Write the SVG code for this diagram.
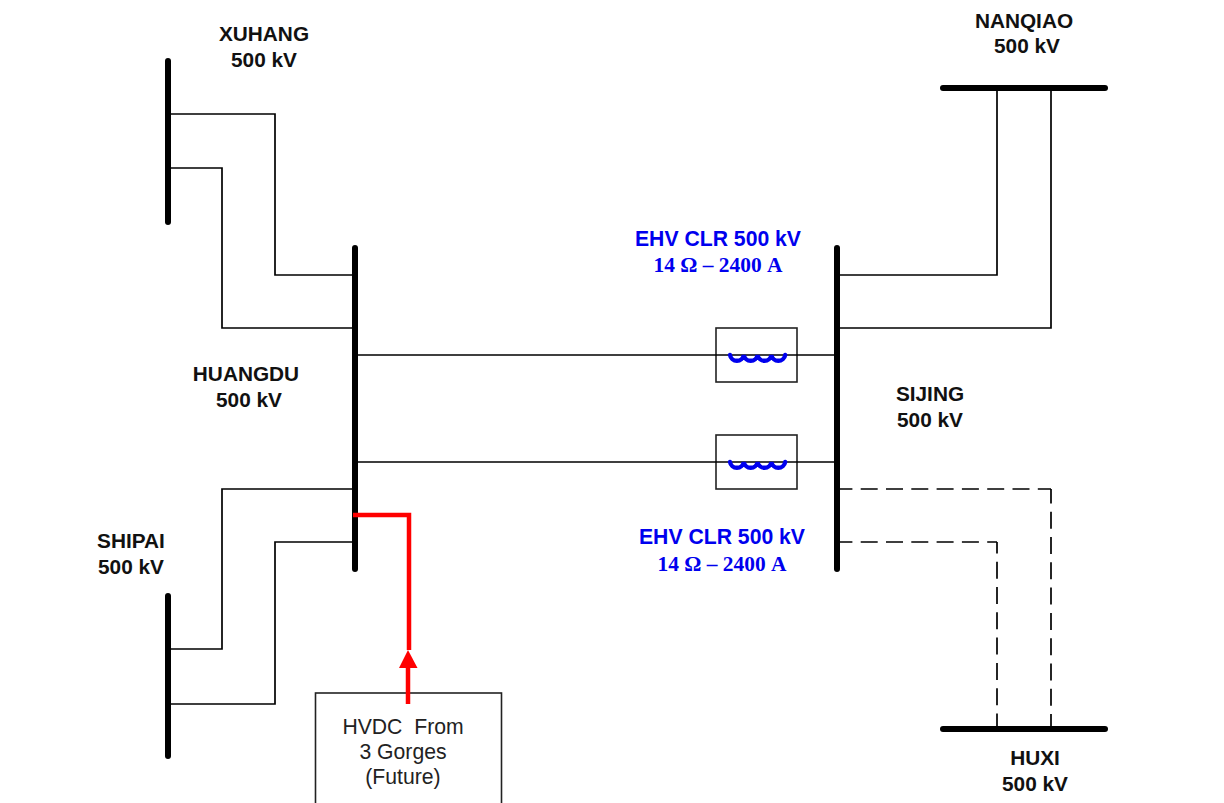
<svg xmlns="http://www.w3.org/2000/svg" width="1224" height="803" viewBox="0 0 1224 803">
<style>
.bus{stroke:#000;stroke-width:6;stroke-linecap:round;fill:none}
.ln{stroke:#000;stroke-width:1.7;fill:none}
.dash{stroke:#000;stroke-width:1.7;fill:none;stroke-dasharray:17 8.3}
.box{fill:#fff;stroke:#222;stroke-width:1.6}
.coil{stroke:#0000ee;stroke-width:4.4;fill:none;stroke-linecap:round}
.hv{stroke:#f00;stroke-width:4.500;fill:none}
text{font-family:"Liberation Sans",Arial,sans-serif;text-anchor:middle}
.lb{font-size:20.8px;font-weight:bold;fill:#111}
.bl{font-size:21.2px;font-weight:bold;fill:#0000ee}
.bs{font-family:"Liberation Serif","Times New Roman",serif;font-size:21.4px;font-weight:bold;fill:#0000ee}
.hl{font-size:21.200px;fill:#222}
</style>
<rect width="1224" height="803" fill="#fff"/>
<g id="xuhang"><line class="bus" x1="168" y1="61" x2="168" y2="222"/><text class="lb" x="264" y="41">XUHANG</text><text class="lb" x="264" y="67">500 kV</text></g>
<g id="huangdu"><line class="bus" x1="355" y1="248" x2="355" y2="569"/><text class="lb" x="246" y="381">HUANGDU</text><text class="lb" x="249" y="407">500 kV</text></g>
<g id="shipai"><line class="bus" x1="168" y1="596" x2="168" y2="756"/><text class="lb" x="131" y="548">SHIPAI</text><text class="lb" x="131" y="574">500 kV</text></g>
<g id="sijing"><line class="bus" x1="837" y1="248" x2="837" y2="569"/><text class="lb" x="930" y="401">SIJING</text><text class="lb" x="930" y="427">500 kV</text></g>
<g id="nanqiao"><line class="bus" x1="943" y1="88" x2="1105" y2="88"/><text class="lb" x="1024" y="28">NANQIAO</text><text class="lb" x="1027" y="53">500 kV</text></g>
<g id="huxi"><line class="bus" x1="943" y1="729" x2="1105" y2="729"/><text class="lb" x="1035" y="765">HUXI</text><text class="lb" x="1035" y="791">500 kV</text></g>
<g id="clr1"><rect class="box" x="716" y="328" width="81" height="54"/><line class="ln" x1="716" y1="355" x2="797" y2="355"/><path class="coil" d="M730 355a7 7 0 0 0 13.800 0a7 7 0 0 0 13.800 0a7 7 0 0 0 13.800 0a7 7 0 0 0 13.800 0"/><text class="bl" x="718" y="246">EHV CLR 500 kV</text><text class="bs" x="718" y="272">14 Ω – 2400 A</text></g>
<g id="clr2"><rect class="box" x="716" y="435" width="81" height="54"/><line class="ln" x1="716" y1="462" x2="797" y2="462"/><path class="coil" d="M730 462a7 7 0 0 0 13.800 0a7 7 0 0 0 13.800 0a7 7 0 0 0 13.800 0a7 7 0 0 0 13.800 0"/><text class="bl" x="722" y="544">EHV CLR 500 kV</text><text class="bs" x="722" y="571">14 Ω – 2400 A</text></g>
<g id="hvdc"><rect class="box" x="315.500" y="693" width="186" height="120"/><text class="hl" x="403" y="734" xml:space="preserve">HVDC  From</text><text class="hl" x="403" y="759">3 Gorges</text><text class="hl" x="403" y="784">(Future)</text></g>
<g id="connectors">
<path class="ln" d="M168 114H275V275H355"/>
<path class="ln" d="M168 168H222V328H355"/>
<path class="ln" d="M168 649H222V489H355"/>
<path class="ln" d="M168 704H275V542H355"/>
<path class="ln" d="M355 355H716M797 355H837"/>
<path class="ln" d="M355 462H716M797 462H837"/>
<path class="ln" d="M837 275H997V88"/>
<path class="ln" d="M837 328H1051V88"/>
<path class="dash" stroke-dashoffset="1.6" d="M837 489H1051"/>
<path class="dash" stroke-dashoffset="2.6" d="M1051 489V729"/>
<path class="dash" stroke-dashoffset="1.6" d="M837 542H997"/>
<path class="dash" stroke-dashoffset="5.6" d="M997 542V729"/>
<path class="hv" d="M353 515H409V650"/>
<polygon points="408,650 417.500,668 399,668" fill="#f00"/>
<line class="hv" x1="408" y1="660" x2="408" y2="704"/>
</g>
</svg>
